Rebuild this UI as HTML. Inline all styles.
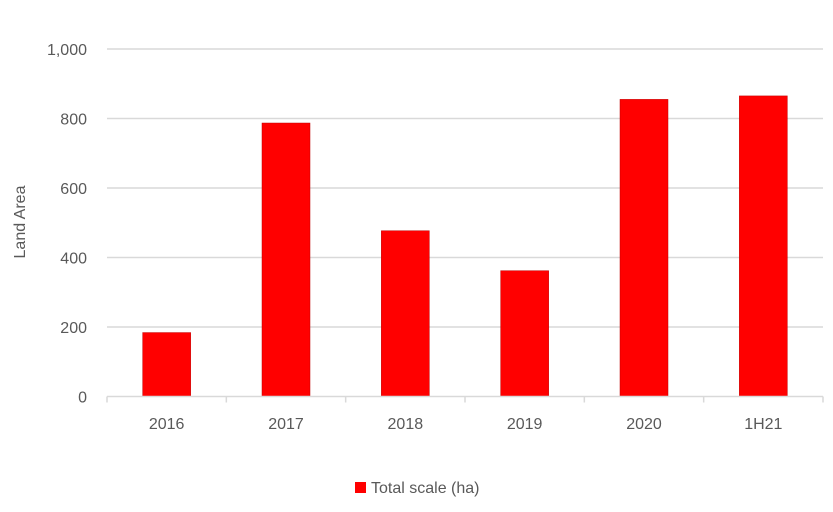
<!DOCTYPE html>
<html><head><meta charset="utf-8"><style>
body{margin:0;background:#fff;}
svg text{font-family:"Liberation Sans",sans-serif;fill:#595959;}
</style></head><body>
<svg id="chart" width="833" height="507" viewBox="0 0 833 507">
<g id="grid"></g><g id="bars"></g><g id="axes"></g>
<text transform="translate(25,222) rotate(-90)" text-anchor="middle" font-size="16">Land Area</text>
<g>
<rect x="355" y="482" width="11" height="11" fill="#ff0000"/>
<text x="371" y="493" font-size="16">Total scale (ha)</text>
</g>
</svg>
<script>
const categories=["2016","2017","2018","2019","2020","1H21"];
const values=[184,787,477,362,855,865];
const yTicks=[0,200,400,600,800,1000];
const yTickLabels=["0","200","400","600","800","1,000"];
const ns="http://www.w3.org/2000/svg";
const x0=107,x1=823,y0=396.5,yTop=49,vmax=1000;
const bw=(x1-x0)/categories.length;
const y=v=>y0-(v/vmax)*(y0-yTop);
function mk(t,a,p){const e=document.createElementNS(ns,t);for(const k in a)e.setAttribute(k,a[k]);p.appendChild(e);return e;}
const grid=document.getElementById('grid'),bars=document.getElementById('bars'),axes=document.getElementById('axes');
yTicks.forEach((v,i)=>{
 if(v>0){const l=mk('line',{x1:x0,x2:x1,y1:y(v),y2:y(v),stroke:'#d9d9d9','stroke-width':1.5},grid);
 
 }
 const t=mk('text',{x:87,y:y(v)+6,'text-anchor':'end','font-size':16},axes);t.textContent=yTickLabels[i];
 
 
});
const ax=mk('line',{x1:x0,x2:x1,y1:y0,y2:y0,stroke:'#d9d9d9','stroke-width':1.5},axes);


for(let i=0;i<=categories.length;i++){const tk=mk('line',{x1:x0+i*bw,x2:x0+i*bw,y1:y0,y2:y0+6,stroke:'#d9d9d9','stroke-width':1.5},axes);
 
 }
categories.forEach((c,i)=>{
 const cx=x0+bw*(i+0.5);
 const r=mk('rect',{x:cx-24,y:y(values[i]),width:48,height:y0-y(values[i]),fill:'#ff0000',stroke:'#c00000','stroke-width':0.5},bars);
 
 
 const t=mk('text',{x:cx,y:429,'text-anchor':'middle','font-size':16},axes);t.textContent=c;
 
 
});
</script>
</body></html>
